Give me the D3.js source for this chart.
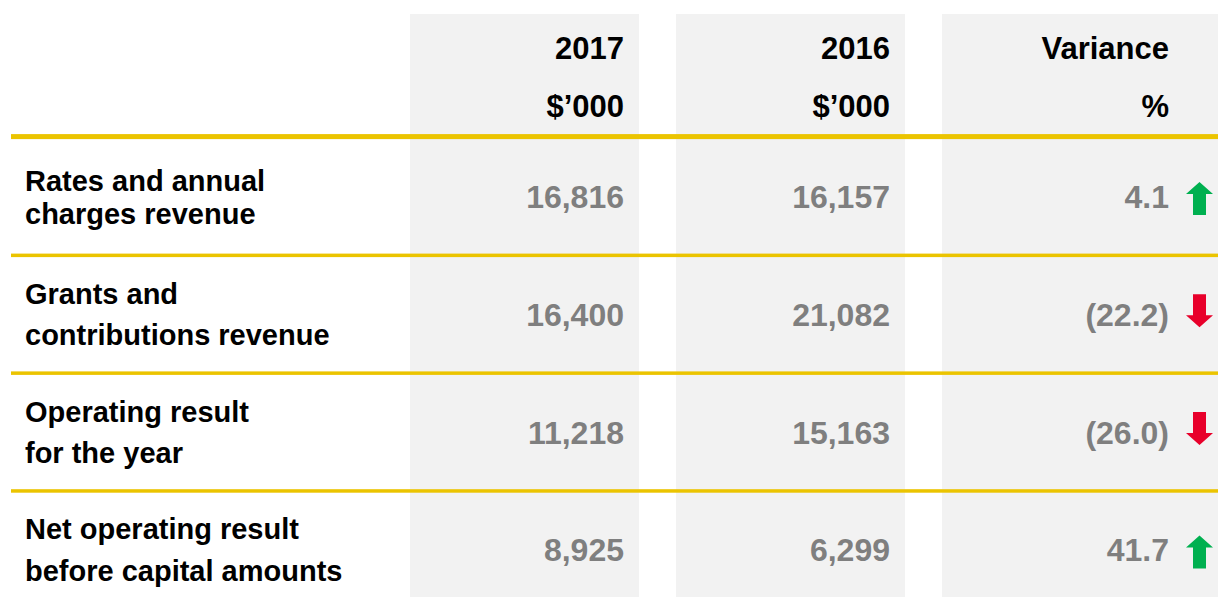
<!DOCTYPE html>
<html>
<head>
<meta charset="utf-8">
<script src="https://cdn.jsdelivr.net/npm/d3@7"></script>
<style>
  html, body { margin: 0; padding: 0; background: #fff; }
  svg { display: block; }
  text { font-family: "Liberation Sans", Arial, Helvetica, sans-serif; font-weight: bold; }
</style>
</head>
<body>
<svg id="chart" width="1218" height="597"></svg>
<script>
// ---- data ----
const categories = [
  ["Rates and annual", "charges revenue"],
  ["Grants and", "contributions revenue"],
  ["Operating result", "for the year"],
  ["Net operating result", "before capital amounts"]
];
const columns = ["2017", "2016", "Variance"];
const columnUnits = ["$\u2019000", "$\u2019000", "%"];
const values2017 = [16816, 16400, 11218, 8925];
const values2016 = [16157, 21082, 15163, 6299];
const variance = [4.1, -22.2, -26.0, 41.7];

// ---- styles ----
const W = 1218, H = 597;
const labelLineGap = [33, 41, 41, 42];
const colors = { band: "#f2f2f2", rule: "#ebc400", value: "#7f7f7f", text: "#000", up: "#00b050", down: "#e8002b" };

const svg = d3.select("#chart");

const rowKeys = categories.map((d, i) => i);
const y = d3.scaleBand().domain(rowKeys).range([137.6, 137.6 + 4 * 117.8]).padding(0);
const pin = 37 / 266;
const x = d3.scaleBand().domain(columns).range([410, 410 + 266 * (3 - pin)]).paddingInner(pin).paddingOuter(0);

// column backgrounds
svg.selectAll("rect.col").data(columns).join("rect")
  .attr("class", "col")
  .attr("x", d => x(d))
  .attr("y", 14)
  .attr("width", (d, i) => i === columns.length - 1 ? W - x(d) : x.bandwidth())
  .attr("height", H - 14)
  .attr("fill", colors.band);

const textRight = d => x(d) + x.bandwidth() - 15;
const varRight = x("Variance") + 227;

// headers
svg.selectAll("text.h1").data(columns).join("text")
  .attr("class", "h1")
  .attr("x", (d, i) => i === 2 ? varRight : textRight(d))
  .attr("y", 59)
  .attr("text-anchor", "end")
  .attr("font-size", 31)
  .attr("fill", colors.text)
  .text(d => d);
svg.selectAll("text.h2").data(columnUnits).join("text")
  .attr("class", "h2")
  .attr("x", (d, i) => i === 2 ? varRight : textRight(columns[i]))
  .attr("y", 117)
  .attr("text-anchor", "end")
  .attr("font-size", 31)
  .attr("fill", colors.text)
  .text(d => d);

// rules
svg.append("rect").attr("x", 11).attr("y", y.range()[0] - 3.5).attr("width", W - 11).attr("height", 5).attr("fill", colors.rule);
svg.selectAll("rect.rule").data(rowKeys.slice(1)).join("rect")
  .attr("class", "rule")
  .attr("x", 11)
  .attr("y", d => y(d) - 1.8)
  .attr("width", W - 11)
  .attr("height", 3.5)
  .attr("fill", colors.rule);

// row labels
const mid = i => y(i) + y.bandwidth() / 2;
const labels = svg.selectAll("text.lab").data(categories).join("text")
  .attr("class", "lab")
  .attr("font-size", 29)
  .attr("fill", colors.text);
labels.each(function(lines, i) {
  const g = labelLineGap[i];
  const base = mid(i) + 10.5 - g / 2;
  d3.select(this).selectAll("tspan").data(lines).join("tspan")
    .attr("x", 25)
    .attr("y", (d, j) => base + j * g)
    .text(d => d);
});

// values
const fmt = d3.format(",");
const fmtVar = v => v < 0 ? "(" + d3.format(".1f")(-v) + ")" : d3.format(".1f")(v);
[values2017, values2016].forEach((arr, c) => {
  svg.selectAll("text.v" + c).data(arr).join("text")
    .attr("class", "v" + c)
    .attr("x", textRight(columns[c]))
    .attr("y", (d, i) => mid(i) + 11.5)
    .attr("text-anchor", "end")
    .attr("font-size", 32)
    .attr("fill", colors.value)
    .text(d => fmt(d));
});
svg.selectAll("text.var").data(variance).join("text")
  .attr("class", "var")
  .attr("x", varRight)
  .attr("y", (d, i) => mid(i) + 11.5)
  .attr("text-anchor", "end")
  .attr("font-size", 32)
  .attr("fill", colors.value)
  .text(d => fmtVar(d));

// arrows (27 wide, 33 tall; shaft 13 wide; head 12 tall)
const arrowUp = "M0,-16.5 L13.5,-4.5 L6.5,-4.5 L6.5,16.5 L-6.5,16.5 L-6.5,-4.5 L-13.5,-4.5 Z";
svg.selectAll("path.arrow").data(variance).join("path")
  .attr("class", "arrow")
  .attr("d", arrowUp)
  .attr("transform", (d, i) => `translate(${x("Variance") + 257.5},${mid(i) + (d >= 0 ? 2 : -3.5)}) rotate(${d >= 0 ? 0 : 180})`)
  .attr("fill", d => d >= 0 ? colors.up : colors.down);
</script>
</body>
</html>
